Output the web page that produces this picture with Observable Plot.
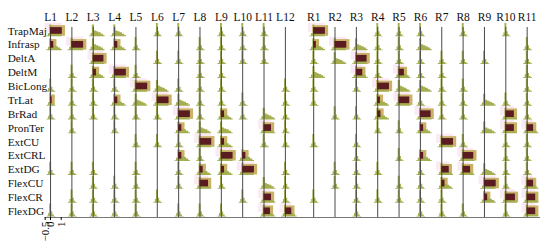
<!DOCTYPE html>
<html>
<head>
<meta charset="utf-8">
<script src="https://cdn.jsdelivr.net/npm/d3@7"></script>
<script src="https://cdn.jsdelivr.net/npm/@observablehq/plot@0.6"></script>
<style>
  html, body { margin: 0; padding: 0; background: #fff; }
  #chart svg { display: block; }
  #chart svg text { font-family: "Liberation Serif", "Times New Roman", serif; font-weight: normal; }
</style>
</head>
<body>
<div id="chart"></div>
<script>
// Electrode columns and muscle rows
const electrodes = ["L1","L2","L3","L4","L5","L6","L7","L8","L9","L10","L11","L12",
                    "R1","R2","R3","R4","R5","R6","R7","R8","R9","R10","R11"];
const muscles = ["TrapMaj","Infrasp","DeltA","DeltM","BicLong","TrLat","BrRad",
                 "PronTer","ExtCU","ExtCRL","ExtDG","FlexCU","FlexCR","FlexDG"];
const xTicks = [-0.5, 0, 1];

// Distribution type per cell: 0 none, 1 narrow spike, 2 broad spread
const spread = [
  [2,0,2,2,0,1,1,0,1,1,1,0, 2,0,0,1,1,1,0,1,0,1,0], // TrapMaj
  [2,2,2,2,1,0,0,1,1,1,1,0, 2,2,2,1,1,2,0,0,0,0,1], // Infrasp
  [0,0,2,0,0,1,1,1,1,1,1,0, 1,2,2,1,1,1,1,1,1,0,1], // DeltA
  [0,1,2,2,1,0,0,1,1,0,0,0, 2,0,2,1,2,1,1,0,0,0,1], // DeltM
  [1,1,1,1,2,2,1,1,1,0,0,1, 1,0,1,2,2,2,1,1,0,0,1], // BicLong
  [1,1,1,2,2,2,2,1,1,1,0,1, 1,0,0,2,2,1,1,1,2,1,1], // TrLat
  [1,1,1,1,1,1,2,1,2,1,2,1, 0,1,1,2,0,2,1,1,0,2,1], // BrRad
  [0,1,0,1,0,0,2,2,2,0,2,1, 0,0,0,1,1,2,0,0,2,2,2], // PronTer
  [0,0,0,0,1,1,1,2,2,0,1,1, 1,0,1,0,0,0,2,1,0,1,1], // ExtCU
  [0,0,0,0,0,0,2,1,2,2,0,0, 0,0,1,0,1,2,0,2,0,1,1], // ExtCRL
  [1,1,1,0,1,0,1,2,2,2,0,1, 0,1,1,1,0,1,2,2,2,1,1], // ExtDG
  [0,0,1,1,1,0,1,2,1,0,2,1, 0,1,1,0,1,1,2,0,2,1,2], // FlexCU
  [0,1,1,1,1,1,0,0,0,1,2,1, 1,0,1,1,1,1,1,0,2,2,2], // FlexCR
  [1,1,1,1,1,0,1,1,1,0,2,2, 0,0,1,0,0,1,1,1,0,1,2]  // FlexDG
];

// Median activation per cell (0 = no box)
const median = [
  [1.1,0,0,0,0,0,0,0,0,0,0,0, 1.1,0,0,0,0,0,0,0,0,0,0],
  [0.3,1.1,0,0.3,0,0,0,0,0,0,0,0, 0.25,1.1,0,0,0,0,0,0,0,0,0],
  [0,0,1.0,0,0,0,0,0,0,0,0,0, 0,0,1.0,0,0,0,0,0,0,0,0],
  [0,0,0.3,1.1,0,0,0,0,0,0,0,0, 0,0,0.6,0,0.5,0,0,0,0,0,0],
  [0,0,0,0,1.1,0,0,0,0,0,0,0, 0,0,0,1.1,0,0,0,0,0,0,0],
  [0.15,0,0,0.3,0,1.1,0,0,0,0,0,0, 0,0,0,0.25,1.0,0,0,0,0,0,0],
  [0,0,0,0,0,0,1.1,0,0.3,0,0,0, 0,0,0,0.3,0,1.0,0,0,0,0.8,0],
  [0,0,0,0,0,0,0.3,0,0,0,0.7,0, 0,0,0,0,0,0.3,0,0,0,0.8,0.6],
  [0,0,0,0,0,0,0,1.1,0.3,0,0,0, 0,0,0,0,0,0,1.1,0,0,0,0],
  [0,0,0,0,0,0,0.3,0,1.1,0.3,0,0, 0,0,0,0,0,0.3,0,1.0,0,0,0],
  [0,0,0,0,0,0,0,0.3,0.3,1.1,0,0, 0,0,0,0,0,0,0.7,0.7,0,0,0],
  [0,0,0,0,0,0,0,0.8,0,0,0,0, 0,0,0,0,0,0,0.3,0,1.1,0,0.6],
  [0,0,0,0,0,0,0,0,0,0,0.7,0, 0,0,0,0,0,0,0,0,0.3,0.9,0.8],
  [0,0,0,0,0,0,0,0,0,0,0.6,0.6, 0,0,0,0,0,0,0,0,0,0,0.8]
];

// Histogram profiles (offset from electrode zero, relative height)
const narrowProfile = [[-0.32,0.07],[-0.18,0.28],[-0.08,1.0],[0.1,0.38],[0.22,0.15],[0.36,0.05],[0.5,0]];
const broadProfile  = [[-0.35,0.07],[-0.2,0.28],[-0.08,1.0],[0.12,0.5],[0.3,0.42],[0.5,0.34],[0.74,0.22],[0.95,0.1],[1.1,0]];

// ---- build tables for the marks ----
const colX = electrodes.map((e, i) => 2 * i + (e[0] === "R" ? 0.65 : 0));
const hist = [];
const boxes = [];
muscles.forEach((m, r) => {
  electrodes.forEach((e, c) => {
    const t = spread[r][c];
    if (t > 0) {
      const prof = t === 1 ? narrowProfile : broadProfile;
      const h = t === 1 ? 0.95 : 0.85;
      for (const [dx, v] of prof) {
        hist.push({cell: m + e, x: colX[c] + dx, y1: r + 0.42, y2: r + 0.42 - v * h});
      }
    }
    const v = median[r][c];
    if (v > 0) boxes.push({m, e, r, x0: colX[c], v});
  });
});

const serif = "Liberation Serif";
const olive = "#a5af50";
const tan = "#c9b268";
const dark = "#5a1c20";

const chart = Plot.plot({
  width: 550,
  height: 241,
  marginLeft: 44.7,
  marginRight: 10,
  marginTop: 27,
  marginBottom: 24,
  style: {fontFamily: serif, fontSize: "11px", color: "#000", background: "#fff"},
  x: {domain: [-0.5, 45.9], axis: null},
  y: {domain: [-0.25, 13.45], reverse: true, axis: null},
  marks: [
    // pink halos behind strong activations
    Plot.rect(boxes.filter(d => d.v >= 0.5), {
      x1: d => d.x0 - 0.5, x2: d => d.x0 + d.v, y1: d => d.r - 0.55, y2: d => d.r + 0.1,
      fill: "#f8d4ec", fillOpacity: 0.5
    }),
    // spread behind box
    Plot.rect(boxes, {
      x1: d => d.x0, x2: d => d.x0 + d.v + 0.3, y1: d => d.r - 0.38, y2: d => d.r + 0.38,
      fill: tan
    }),
    // histograms
    Plot.area(hist, {x1: "x", y1: "y1", y2: "y2", z: "cell", curve: "step-after", fill: olive}),
    // electrode zero lines
    Plot.ruleX(colX, {y1: -0.25, y2: 13.45, stroke: "#4a4a4a", strokeWidth: 1}),
    // bottom axis line
    Plot.ruleY([13.45], {x1: -0.5, x2: 45.9, stroke: "#777", strokeWidth: 1}),
    // median boxes
    Plot.rect(boxes, {
      x1: "x0", x2: d => d.x0 + d.v, y1: d => d.r - 0.24, y2: d => d.r + 0.24,
      fill: dark
    }),
    // column labels
    Plot.text(electrodes, {
      x: (d, i) => colX[i], y: () => -0.25, dy: -10, text: d => d,
      fontSize: 11.5, fontFamily: serif, fill: "#111"
    }),
    // row labels
    Plot.text(muscles, {
      y: (d, i) => i, frameAnchor: "left", dx: -37.5, textAnchor: "start", text: d => d,
      fontSize: 11.3, fontFamily: serif, fill: "#111"
    }),
    // x axis ticks under the first electrode
    Plot.axisX({
      ticks: xTicks, tickRotate: -90, tickSize: 3, tickPadding: 1,
      tickFormat: d => d < 0 ? "\u2212" + Math.abs(d) : String(d),
      fontSize: 11, fontFamily: serif, label: null, y: 13.45
    })
  ]
});
document.getElementById("chart").appendChild(chart);
</script>
</body>
</html>
